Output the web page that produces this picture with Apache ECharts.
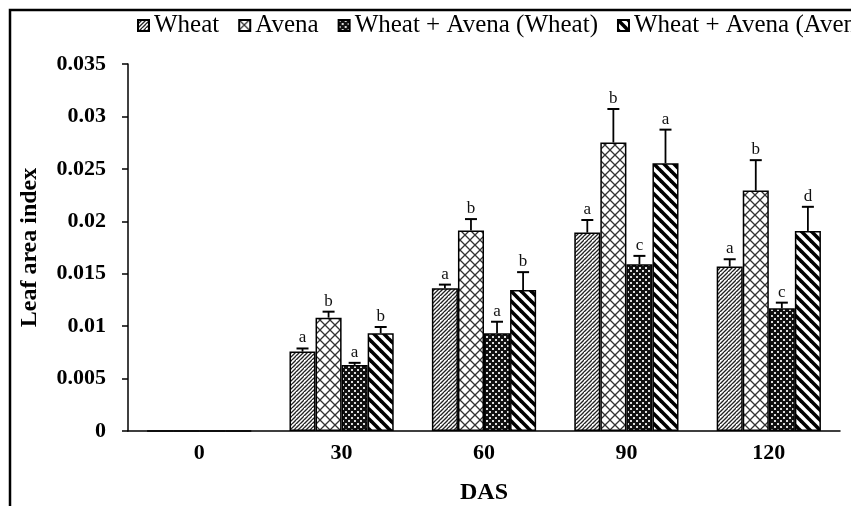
<!DOCTYPE html>
<html>
<head>
<meta charset="utf-8">
<script src="https://cdn.jsdelivr.net/npm/echarts@6/dist/echarts.min.js"></script>
<style>
html,body{margin:0;padding:0;background:#fff;}
#chart{width:851px;height:506px;}
</style>
</head>
<body>
<div id="chart"></div>
<script>
// ---- data ----
const categories = ['0', '30', '60', '90', '120'];
const seriesNames = ['Wheat', 'Avena', 'Wheat + Avena (Wheat)', 'Wheat + Avena (Avena)'];
const wheat     = [0, 0.00757, 0.01361, 0.01892, 0.01568];
const avena     = [0, 0.01081, 0.01911, 0.02751, 0.02293];
const mixWheat  = [0, 0.00630, 0.00932, 0.01590, 0.01170];
const mixAvena  = [0, 0.00932, 0.01345, 0.02554, 0.01908];
const wheatErr    = [0, 0.00030, 0.00035, 0.00120, 0.00070];
const avenaErr    = [0, 0.00057, 0.00110, 0.00320, 0.00290];
const mixWheatErr = [0, 0.00020, 0.00110, 0.00080, 0.00054];
const mixAvenaErr = [0, 0.00060, 0.00170, 0.00320, 0.00230];
const wheatLetters    = ['', 'a', 'a', 'a', 'a'];
const avenaLetters    = ['', 'b', 'b', 'b', 'b'];
const mixWheatLetters = ['', 'a', 'a', 'c', 'c'];
const mixAvenaLetters = ['', 'b', 'b', 'a', 'd'];
const yTicks = [0, 0.005, 0.01, 0.015, 0.02, 0.025, 0.03, 0.035];

const values  = [wheat, avena, mixWheat, mixAvena];
const errs    = [wheatErr, avenaErr, mixWheatErr, mixAvenaErr];
const letters = [wheatLetters, avenaLetters, mixWheatLetters, mixAvenaLetters];

// ---- patterns ----
function tile(w, h, draw) {
  const c = document.createElement('canvas');
  c.width = w; c.height = h;
  const g = c.getContext('2d');
  draw(g, w, h);
  return c;
}
const patWheat = tile(8, 8, (g, w, h) => {
  g.fillStyle = '#fff'; g.fillRect(0, 0, w, h);
  g.strokeStyle = '#222'; g.lineWidth = 1.3;
  for (let c = 0; c <= 16; c += 4) {
    g.beginPath(); g.moveTo(0, c); g.lineTo(c, 0); g.stroke();
  }
});
const patAvena = tile(10, 10, (g, w, h) => {
  g.fillStyle = '#fff'; g.fillRect(0, 0, w, h);
  g.strokeStyle = '#333'; g.lineWidth = 1.3;
  g.beginPath(); g.moveTo(0, 0); g.lineTo(10, 10);
  g.moveTo(0, 10); g.lineTo(10, 0); g.stroke();
});
const patMixWheat = tile(6, 6, (g, w, h) => {
  g.fillStyle = '#111'; g.fillRect(0, 0, w, h);
  g.fillStyle = '#ddd';
  g.fillRect(0, 0, 2, 2); g.fillRect(3, 3, 2, 2);
});
const patMixAvena = tile(10, 10, (g, w, h) => {
  g.fillStyle = '#fff'; g.fillRect(0, 0, w, h);
  g.strokeStyle = '#000'; g.lineWidth = 3.6;
  for (let c = -10; c <= 10; c += 10) {
    g.beginPath(); g.moveTo(c - 2, -2); g.lineTo(c + 12, 12); g.stroke();
  }
});
const patterns = [patWheat, patAvena, patMixWheat, patMixAvena];

const FONT = '"Liberation Serif", "Times New Roman", serif';
const BAR_FRAC = 0.183;

const chart = echarts.init(document.getElementById('chart'), null, {renderer: 'canvas'});

const barSeries = values.map((vals, i) => ({
  name: seriesNames[i],
  type: 'bar',
  data: vals,
  barWidth: (BAR_FRAC * 100) + '%',
  barGap: '0%',
  itemStyle: {
    color: {image: patterns[i], repeat: 'repeat'},
    borderColor: '#000',
    borderWidth: 1.5
  },
  emphasis: {disabled: true},
  z: 2
}));

const errData = [];
values.forEach((vals, i) => {
  vals.forEach((v, j) => {
    if (letters[i][j] !== '') errData.push([j, v, errs[i][j], i, letters[i][j]]);
  });
});

const errSeries = {
  type: 'custom',
  data: errData,
  encode: {x: 0, y: 1},
  z: 5,
  silent: true,
  renderItem: function (params, api) {
    const cat = api.value(0), val = api.value(1), err = api.value(2), s = api.value(3);
    const letter = errData[params.dataIndex][4];
    const band = api.size([1, 0])[0];
    const bw = band * BAR_FRAC;
    const base = api.coord([cat, val]);
    const x = base[0] + (s - 1.5) * bw;
    const top = api.coord([cat, val + err])[1];
    const capHalf = 6;
    return {
      type: 'group',
      children: [
        {type: 'line', shape: {x1: x, y1: base[1], x2: x, y2: top}, style: {stroke: '#000', lineWidth: 1.8}},
        {type: 'line', shape: {x1: x - capHalf, y1: top, x2: x + capHalf, y2: top}, style: {stroke: '#000', lineWidth: 2}},
        {type: 'text', x: x, y: top - 2, style: {text: letter, fill: '#111', font: '17px ' + FONT, textAlign: 'center', textVerticalAlign: 'bottom'}}
      ]
    };
  }
};

chart.setOption({
  animation: false,
  backgroundColor: '#fff',
  textStyle: {fontFamily: FONT},
  graphic: [{
    type: 'rect',
    shape: {x: 10, y: 10, width: 1200, height: 1200},
    style: {fill: 'none', stroke: '#000', lineWidth: 2.5},
    silent: true,
    z: 0
  }],
  legend: {
    data: seriesNames,
    left: 132,
    top: 8,
    width: 1500,
    icon: 'rect',
    itemWidth: 11,
    itemHeight: 11,
    itemGap: 19,
    textStyle: {fontFamily: FONT, fontSize: 25, color: '#000'},
    selectedMode: false
  },
  grid: {left: 128, right: 11, top: 64, bottom: 75, containLabel: false, outerBoundsMode: 'none'},
  xAxis: {
    type: 'category',
    data: categories,
    name: 'DAS',
    nameLocation: 'middle',
    nameGap: 50,
    nameTextStyle: {fontFamily: FONT, fontSize: 24, fontWeight: 'bold', color: '#000'},
    axisLine: {lineStyle: {color: '#000', width: 1.5}},
    axisTick: {alignWithLabel: true, length: 5, lineStyle: {color: '#000', width: 1.5}},
    axisLabel: {fontFamily: FONT, fontSize: 22, fontWeight: 'bold', color: '#000', margin: 11}
  },
  yAxis: {
    type: 'value',
    min: yTicks[0],
    max: yTicks[yTicks.length - 1],
    interval: yTicks[1] - yTicks[0],
    name: 'Leaf area index',
    nameLocation: 'middle',
    nameRotate: 90,
    nameGap: 86,
    nameTextStyle: {fontFamily: FONT, fontSize: 24, fontWeight: 'bold', color: '#000'},
    axisLine: {show: true, lineStyle: {color: '#000', width: 1.5}},
    axisTick: {show: true, length: 6, lineStyle: {color: '#000', width: 1.5}},
    splitLine: {show: false},
    axisLabel: {
      fontFamily: FONT, fontSize: 22, fontWeight: 'bold', color: '#000', margin: 22,
      formatter: v => String(+v.toFixed(3))
    }
  },
  series: barSeries.concat([errSeries])
});
</script>
</body>
</html>
